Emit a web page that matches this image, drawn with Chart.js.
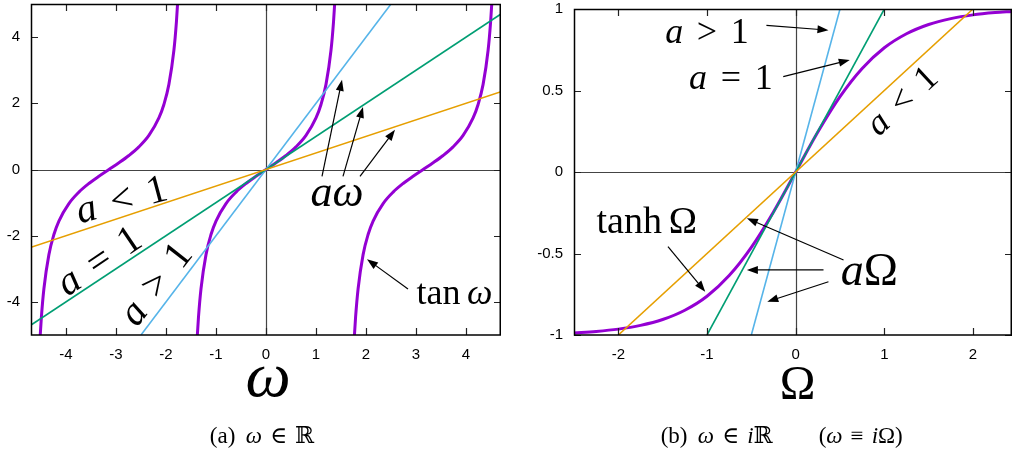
<!DOCTYPE html>
<html>
<head>
<meta charset="utf-8">
<script src="https://cdn.jsdelivr.net/npm/chart.js@4.4.0/dist/chart.umd.min.js"></script>
<style>
body { margin: 0; background: #fff; width: 1012px; height: 457px; overflow: hidden; position: relative; }
canvas { position: absolute; top: 0; }
#left { left: 0; }
#right { left: 506px; }
</style>
</head>
<body>
<canvas id="left" width="506" height="457"></canvas>
<canvas id="right" width="506" height="457"></canvas>
<script>
// ---- panel (a): tan w and the lines a*w ----
const tanY = [-5, -4.455, -3.602, -2.572, -1.965, -1.557, -1.03, -0.684, -0.423, -0.203, 0,
              0.203, 0.423, 0.684, 1.03, 1.557, 1.965, 2.572, 3.602, 4.455, 5];
const tanX1 = [-4.515, -4.492, -4.442, -4.342, -4.242, -4.142, -3.942, -3.742, -3.542, -3.342, -3.142,
               -2.942, -2.742, -2.542, -2.342, -2.142, -2.042, -1.942, -1.842, -1.792, -1.769];
const tanX2 = [-1.373, -1.35, -1.3, -1.2, -1.1, -1.0, -0.8, -0.6, -0.4, -0.2, 0,
               0.2, 0.4, 0.6, 0.8, 1.0, 1.1, 1.2, 1.3, 1.35, 1.373];
const tanX3 = [1.769, 1.792, 1.842, 1.942, 2.042, 2.142, 2.342, 2.542, 2.742, 2.942, 3.142,
               3.342, 3.542, 3.742, 3.942, 4.142, 4.242, 4.342, 4.442, 4.492, 4.515];
const leftLessX = [-4.7, 4.7],  leftLessY = [-2.35, 2.35];   // a < 1
const leftOneX = [-4.7, 4.7],   leftOneY = [-4.7, 4.7];      // a = 1
const leftMoreX = [-2.5, 2.5],  leftMoreY = [-5, 5];         // a > 1
const leftXTicks = [-4, -3, -2, -1, 0, 1, 2, 3, 4];
const leftYTicks = [-4, -2, 0, 2, 4];

// ---- panel (b): tanh W and the lines a*W ----
const tanhX = [-2.5, -2.25, -2, -1.75, -1.5, -1.25, -1, -0.75, -0.5, -0.25, 0,
               0.25, 0.5, 0.75, 1, 1.25, 1.5, 1.75, 2, 2.25, 2.44];
const tanhY = [-0.987, -0.978, -0.964, -0.941, -0.905, -0.848, -0.762, -0.635, -0.462, -0.245, 0,
               0.245, 0.462, 0.635, 0.762, 0.848, 0.905, 0.941, 0.964, 0.978, 0.985];
const rightLessX = [-2, 2],     rightLessY = [-1, 1];
const rightOneX = [-1, 1],      rightOneY = [-1, 1];
const rightMoreX = [-0.5, 0.5], rightMoreY = [-1, 1];
const rightXTicks = [-2, -1, 0, 1, 2];
const rightYTicks = [-1, -0.5, 0, 0.5, 1];

const PURPLE = '#9400D3', BLUE = '#56B4E9', GREEN = '#009E73', ORANGE = '#E69F00';
const SERIF = '"Liberation Serif", "DejaVu Serif", serif';
const SANS = '"Liberation Sans", Arial, sans-serif';

function pts(xs, ys) {
    return xs.map((x, i) => ({ x: x, y: ys[i] }));
}

function lineSet(xs, ys, color) {
    return { data: pts(xs, ys), borderColor: color, borderWidth: 1.6, pointRadius: 0, showLine: true };
}

function curveSet(xs, ys) {
    return { data: pts(xs, ys), borderColor: PURPLE, borderWidth: 3, pointRadius: 0, showLine: true,
             cubicInterpolationMode: 'monotone' };
}

// draw mixed roman / italic text; numbers in parts are gaps in em
function rich(ctx, parts, size, cx, cy, angle, baseline) {
    ctx.save();
    ctx.translate(cx, cy);
    if (angle) ctx.rotate(angle * Math.PI / 180);
    ctx.textBaseline = baseline || 'alphabetic';
    ctx.textAlign = 'left';
    ctx.fillStyle = '#000';
    const fontOf = p => (p[1] === 'i' ? 'italic ' : '') + size + 'px ' + SERIF;
    let w = 0;
    parts.forEach(p => {
        if (typeof p === 'number') { w += p * size; return; }
        ctx.font = fontOf(p);
        w += ctx.measureText(p[0]).width;
    });
    let px = -w / 2;
    parts.forEach(p => {
        if (typeof p === 'number') { px += p * size; return; }
        ctx.font = fontOf(p);
        ctx.fillText(p[0], px, 0);
        px += ctx.measureText(p[0]).width;
    });
    ctx.restore();
}

function arrow(ctx, x1, y1, x2, y2) {
    const ang = Math.atan2(y2 - y1, x2 - x1);
    const len = 11, half = 4;
    ctx.save();
    ctx.strokeStyle = '#000';
    ctx.fillStyle = '#000';
    ctx.lineWidth = 1.2;
    ctx.beginPath();
    ctx.moveTo(x1, y1);
    ctx.lineTo(x2 - Math.cos(ang) * len * 0.8, y2 - Math.sin(ang) * len * 0.8);
    ctx.stroke();
    ctx.beginPath();
    ctx.moveTo(x2, y2);
    ctx.lineTo(x2 - Math.cos(ang) * len - Math.sin(ang) * half, y2 - Math.sin(ang) * len + Math.cos(ang) * half);
    ctx.lineTo(x2 - Math.cos(ang) * len + Math.sin(ang) * half, y2 - Math.sin(ang) * len - Math.cos(ang) * half);
    ctx.closePath();
    ctx.fill();
    ctx.restore();
}

const decor = {
    id: 'decor',
    beforeDatasetsDraw(chart) {
        const { ctx, chartArea: a, scales: { x, y } } = chart;
        const x0 = Math.round(x.getPixelForValue(0)) + 0.5;
        const y0 = Math.round(y.getPixelForValue(0)) + 0.5;
        ctx.save();
        ctx.strokeStyle = '#444';
        ctx.lineWidth = 1.2;
        ctx.beginPath();
        ctx.moveTo(a.left, y0); ctx.lineTo(a.right, y0);
        ctx.moveTo(x0, a.top); ctx.lineTo(x0, a.bottom);
        ctx.stroke();
        ctx.restore();
    },
    afterDatasetsDraw(chart, args, opts) {
        const { ctx, chartArea: a, scales: { x, y } } = chart;
        ctx.save();
        // inward tick marks on all four sides
        ctx.strokeStyle = '#222';
        ctx.lineWidth = 1.2;
        ctx.beginPath();
        x.ticks.forEach(t => {
            const px = Math.round(x.getPixelForValue(t.value)) + 0.5;
            ctx.moveTo(px, a.bottom); ctx.lineTo(px, a.bottom - 7);
            ctx.moveTo(px, a.top); ctx.lineTo(px, a.top + 7);
        });
        y.ticks.forEach(t => {
            const py = Math.round(y.getPixelForValue(t.value)) + 0.5;
            ctx.moveTo(a.left, py); ctx.lineTo(a.left + 7, py);
            ctx.moveTo(a.right, py); ctx.lineTo(a.right - 7, py);
        });
        ctx.stroke();
        // frame
        ctx.strokeStyle = '#000';
        ctx.lineWidth = 1.5;
        ctx.strokeRect(a.left + 0.5, a.top + 0.5, a.right - a.left - 1.25, a.bottom - a.top - 0.5);

        // tick labels
        ctx.fillStyle = '#000';
        ctx.font = '15px ' + SANS;
        ctx.textBaseline = 'middle';
        ctx.textAlign = 'center';
        x.ticks.forEach(t => ctx.fillText(String(t.value), x.getPixelForValue(t.value), a.bottom + 20));
        ctx.textAlign = 'right';
        y.ticks.forEach(t => ctx.fillText(String(t.value), a.left - 11, y.getPixelForValue(t.value)));
        ctx.restore();

        (opts.notes || []).forEach(n => {
            rich(ctx, n.parts, n.size, x.getPixelForValue(n.x), y.getPixelForValue(n.y), n.angle, n.base);
        });
        (opts.arrows || []).forEach(r => {
            arrow(ctx, x.getPixelForValue(r[0]), y.getPixelForValue(r[1]),
                  x.getPixelForValue(r[2]), y.getPixelForValue(r[3]));
        });
        (opts.texts || []).forEach(n => rich(ctx, n.parts, n.size, n.x, n.y, 0));
    }
};

function scaleOpts(min, max, ticks, fit) {
    return {
        type: 'linear', min: min, max: max,
        grid: { display: false, drawTicks: false, tickLength: 0 }, border: { display: false },
        afterBuildTicks: s => { s.ticks = ticks.map(v => ({ value: v })); },
        afterFit: fit,
        ticks: { display: false }
    };
}

function makeChart(id, datasets, xs, ys, padding, yWidth, plug) {
    return new Chart(document.getElementById(id), {
        type: 'scatter',
        data: { datasets: datasets },
        options: {
            responsive: false, animation: false, devicePixelRatio: 1,
            layout: { padding: padding },
            plugins: { legend: { display: false }, tooltip: { enabled: false }, decor: plug },
            scales: {
                x: scaleOpts(xs[0], xs[1], xs[2], s => { s.height = 30; }),
                y: scaleOpts(ys[0], ys[1], ys[2], s => { s.width = yWidth; })
            }
        },
        plugins: [decor]
    });
}

const aLess = [['a', 'i'], 0.38, ['<', 'r'], 0.38, ['1', 'r']];
const aEq = [['a', 'i'], 0.38, ['=', 'r'], 0.38, ['1', 'r']];
const aMore = [['a', 'i'], 0.38, ['>', 'r'], 0.38, ['1', 'r']];

makeChart('left', [
    lineSet(leftLessX, leftLessY, ORANGE),
    lineSet(leftOneX, leftOneY, GREEN),
    lineSet(leftMoreX, leftMoreY, BLUE),
    curveSet(tanX1, tanY),
    curveSet(tanX2, tanY),
    curveSet(tanX3, tanY)
], [-4.7, 4.7, leftXTicks], [-5, 5, leftYTicks], { left: 0, top: 4, right: 5, bottom: 92 }, 31, {
    notes: [
        { parts: aLess, size: 40, x: -2.88, y: -0.96, angle: -15, base: 'middle' },
        { parts: aEq, size: 40, x: -3.32, y: -2.8, angle: -34, base: 'middle' },
        { parts: aMore, size: 40, x: -2.18, y: -3.49, angle: -52, base: 'middle' },
        { parts: [['a', 'i'], ['ω', 'i']], size: 44, x: 1.42, y: -1.11 },
        { parts: [['tan', 'r'], 0.18, ['ω', 'i']], size: 36, x: 3.77, y: -4.06 }
    ],
    arrows: [
        [1.12, -0.21, 1.52, 2.71],
        [1.54, -0.21, 1.94, 1.89],
        [1.88, -0.21, 2.58, 1.2],
        [2.84, -3.61, 2.02, -2.71]
    ],
    texts: [
        { parts: [['ω', 'i']], size: 64, x: 268, y: 396 },
        { parts: [['(a)', 'r'], 0.45, ['ω', 'i'], 0.35, ['∈', 'r'], 0.35, ['ℝ', 'r']], size: 23, x: 262, y: 443 }
    ]
});

makeChart('right', [
    lineSet(rightLessX, rightLessY, ORANGE),
    lineSet(rightOneX, rightOneY, GREEN),
    lineSet(rightMoreX, rightMoreY, BLUE),
    curveSet(tanhX, tanhY)
], [-2.5, 2.44, rightXTicks], [-1, 1, rightYTicks], { left: 0, top: 9, right: 0, bottom: 92 }, 68, {
    notes: [
        { parts: aMore, size: 36, x: -1.0, y: 0.79 },
        { parts: aEq, size: 36, x: -0.73, y: 0.51 },
        { parts: aLess, size: 36, x: 1.21, y: 0.43, angle: -43, base: 'middle' },
        { parts: [['tanh', 'r'], 0.18, ['Ω', 'r']], size: 38, x: -1.68, y: -0.376 },
        { parts: [['a', 'i'], ['Ω', 'r']], size: 46, x: 0.83, y: -0.693 }
    ],
    arrows: [
        [-0.33, 0.9, 0.37, 0.87],
        [-0.14, 0.585, 0.61, 0.687],
        [-1.44, -0.458, -1.02, -0.734],
        [0.54, -0.54, -0.55, -0.284],
        [0.314, -0.601, -0.55, -0.601],
        [0.37, -0.673, -0.32, -0.796]
    ],
    texts: [
        { parts: [['Ω', 'r']], size: 48, x: 291.5, y: 399 },
        { parts: [['(b)', 'r'], 0.45, ['ω', 'i'], 0.35, ['∈', 'r'], 0.35, ['i', 'i'], ['ℝ', 'r'], 2.0,
                  ['(', 'r'], ['ω', 'i'], 0.35, ['≡', 'r'], 0.35, ['i', 'i'], ['Ω', 'r'], [')', 'r']], size: 23, x: 275.7, y: 443 }
    ]
});
</script>
</body>
</html>
